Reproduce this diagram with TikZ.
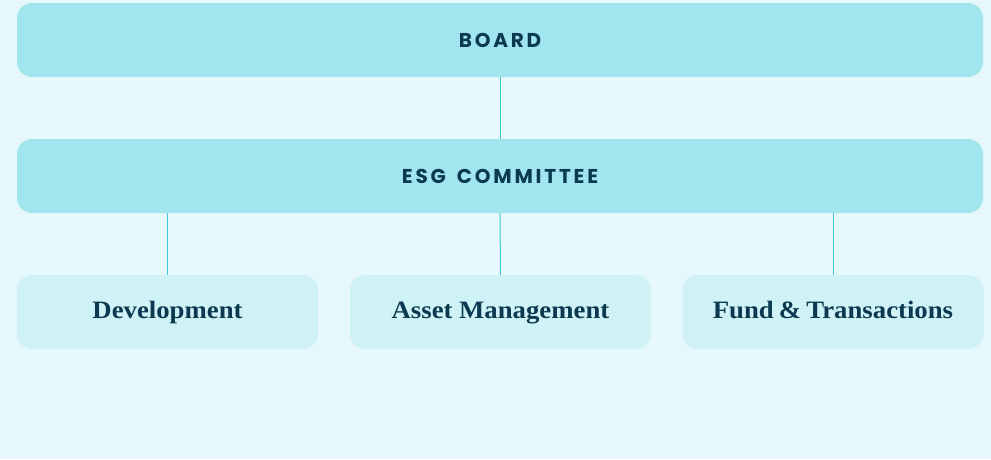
\documentclass[tikz,border=0pt]{standalone}
\usepackage{fontspec}
\setmainfont{Liberation Serif}
\newfontfamily\capsfont[LetterSpace=14]{Poppins}
\newfontfamily\serifwide[FakeStretch=1.07]{Liberation Serif}
\definecolor{bgc}{HTML}{E6F8FB}
\definecolor{topc}{HTML}{A1E5EE}
\definecolor{subc}{HTML}{CFF2F6}
\definecolor{txtc}{HTML}{0B3A50}
\definecolor{linec}{HTML}{3FC7DB}
\begin{document}
\begin{tikzpicture}[x=1pt,y=-1pt,
  topbox/.style={fill=topc,rounded corners=15pt,minimum width=966pt,minimum height=74pt,inner sep=0pt,
    text height=14pt,text depth=0pt,
    font=\capsfont\bfseries\fontsize{20}{24}\selectfont,text=txtc},
  subbox/.style={fill=subc,rounded corners=15pt,minimum width=301pt,minimum height=74pt,inner sep=0pt,
    text height=17pt,text depth=5pt,
    font=\serifwide\bfseries\fontsize{25}{28}\selectfont,text=txtc},
  conn/.style={draw=linec,line width=1pt}]
\fill[bgc] (0,0) rectangle (991,459);
\useasboundingbox (0,0) rectangle (991,459);
\node[topbox] (board) at (500,40) {BOARD};
\node[topbox] (esg) at (500,176) {ESG\hspace{11pt}COMMITTEE};
\node[subbox] (dev) at (167.5,312) {Development};
\node[subbox] (asset) at (500.5,312) {Asset Management};
\node[subbox] (fund) at (833,312) {Fund\hspace{-1.5pt} \&\hspace{-1.5pt} Transactions};
\draw[conn] (board.south) -- (esg.north);
\draw[conn] (esg.south -| dev.north) -- (dev.north);
\draw[conn] (esg.south) -- (asset.north);
\draw[conn] (esg.south -| fund.north) -- (fund.north);
\end{tikzpicture}
\end{document}
